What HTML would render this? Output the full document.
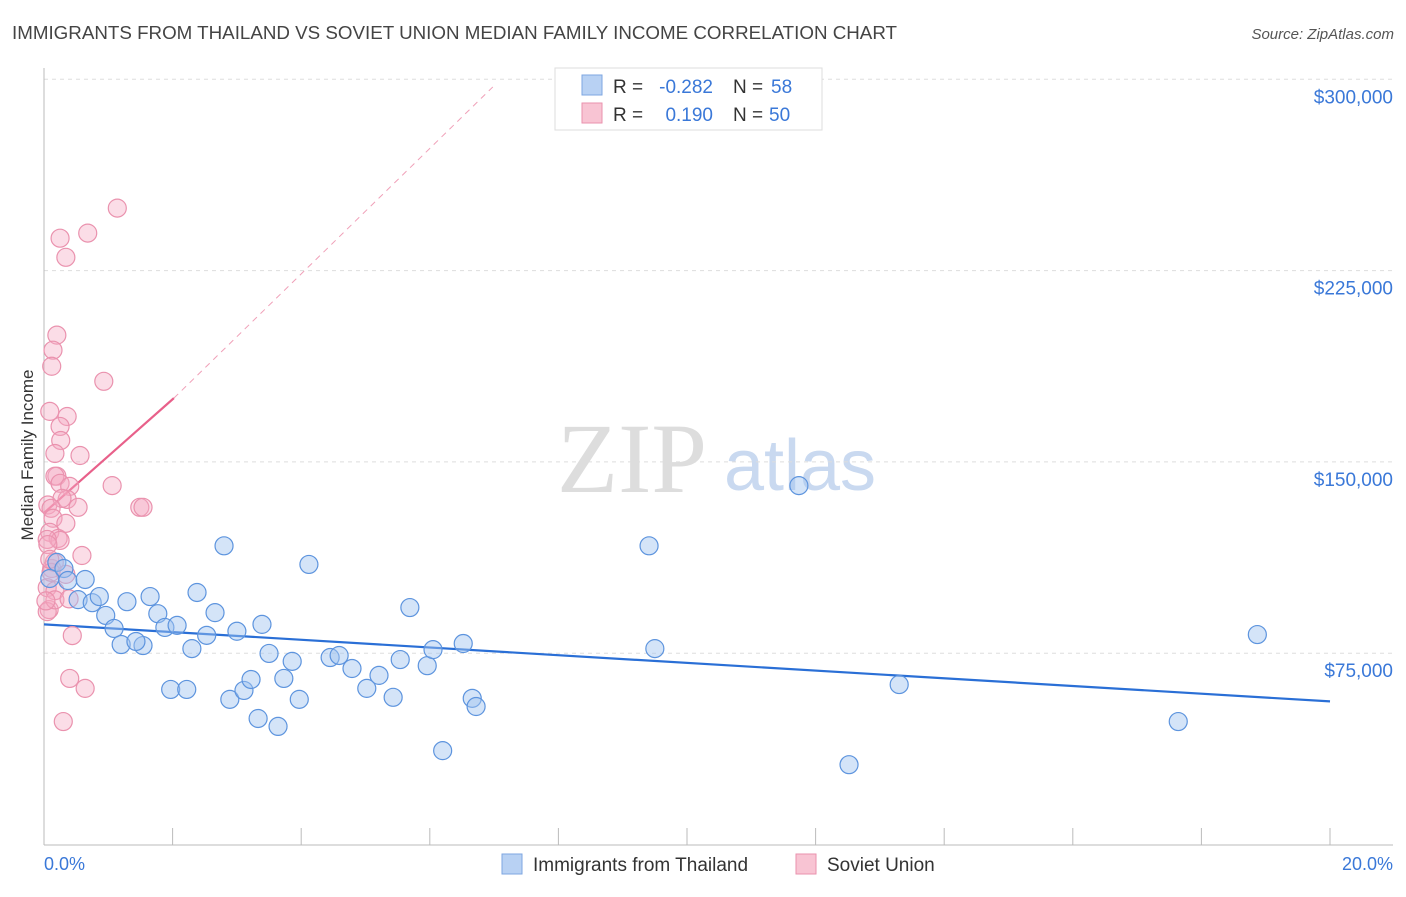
<!DOCTYPE html>
<html><head><meta charset="utf-8"><style>
body{margin:0;background:#fff;font-family:"Liberation Sans",sans-serif;}
</style></head><body>
<svg width="1406" height="892" xmlns="http://www.w3.org/2000/svg" id="svg">
<text x="12" y="39" font-size="18" fill="#444" textLength="885" lengthAdjust="spacingAndGlyphs">IMMIGRANTS FROM THAILAND VS SOVIET UNION MEDIAN FAMILY INCOME CORRELATION CHART</text>
<text x="1394" y="39" font-size="15" fill="#555" font-style="italic" text-anchor="end">Source: ZipAtlas.com</text>
<text x="632" y="492" font-size="100" fill="#ddd" font-family="Liberation Serif" text-anchor="middle">ZIP</text>
<text x="800" y="490" font-size="72" fill="#c9d9f0" text-anchor="middle">atlas</text>
<g id="grid"></g>
<line x1="44" y1="68" x2="44" y2="845" stroke="#bbb"/>
<line x1="44" y1="845" x2="1393" y2="845" stroke="#bbb"/>
<text x="33" y="455" font-size="17" fill="#333" text-anchor="middle" transform="rotate(-90 33 455)">Median Family Income</text>
<text x="44" y="870" font-size="18" fill="#3a78d8">0.0%</text>
<text x="1393" y="870" font-size="18" fill="#3a78d8" text-anchor="end">20.0%</text>
<g id="lines"></g>
<g id="points"></g>
<g>
<rect x="555" y="68" width="267" height="62" fill="#fff" stroke="#ddd"/>
<rect x="582" y="75" width="20" height="20" fill="#b8d1f3" stroke="#7ea6e0"/>
<rect x="582" y="103" width="20" height="20" fill="#f8c4d3" stroke="#ea92ae"/>
<text x="613" y="93" font-size="19" fill="#333">R =</text>
<text x="713" y="93" font-size="19" fill="#3a78d8" text-anchor="end">-0.282</text>
<text x="733" y="93" font-size="19" fill="#333">N =</text>
<text x="771" y="93" font-size="19" fill="#3a78d8">58</text>
<text x="613" y="121" font-size="19" fill="#333">R =</text>
<text x="713" y="121" font-size="19" fill="#3a78d8" text-anchor="end">0.190</text>
<text x="733" y="121" font-size="19" fill="#333">N =</text>
<text x="769" y="121" font-size="19" fill="#3a78d8">50</text>
</g>
<g>
<rect x="502" y="854" width="20" height="20" fill="#b8d1f3" stroke="#7ea6e0"/>
<text x="533" y="871" font-size="19" fill="#333">Immigrants from Thailand</text>
<rect x="796" y="854" width="20" height="20" fill="#f8c4d3" stroke="#ea92ae"/>
<text x="827" y="871" font-size="19" fill="#333">Soviet Union</text>
</g>
</svg>
<script>
const yTicks=[75000,150000,225000,300000];
const yTickLabels=["$75,000","$150,000","$225,000","$300,000"];
const thaiX=[0.2,0.09,0.31,0.37,0.64,0.53,0.75,0.86,0.96,1.09,1.2,1.29,1.54,1.43,1.65,1.77,1.88,1.97,2.07,2.22,2.3,2.38,2.53,2.66,2.8,2.89,3.0,3.11,3.22,3.33,3.39,3.5,3.64,3.73,3.86,3.97,4.12,4.45,4.59,4.79,5.02,5.21,5.43,5.54,5.69,5.96,6.05,6.2,6.52,6.66,6.72,9.41,9.5,11.74,12.52,13.3,17.64,18.87];
const thaiY=[110600,104300,108200,103500,103900,96000,94800,97200,89800,84700,78400,95200,78000,79600,97200,90500,85100,60800,85900,60800,76800,98800,82000,90900,117100,56900,83600,60400,64700,49400,86300,74900,46300,65100,71800,56900,109800,73300,74100,69000,61200,66300,57700,72500,92900,70100,76400,36800,78800,57300,54100,117100,76800,140700,31300,62700,48200,82300];
const sovX=[0.06,0.2,0.05,0.08,0.05,0.12,0.17,0.25,0.34,0.68,1.14,0.2,0.14,0.12,0.93,0.09,0.36,0.25,0.26,0.56,0.17,0.17,0.25,0.4,0.36,0.28,0.11,0.53,0.14,0.34,0.09,0.22,0.25,0.05,0.59,1.06,1.49,1.54,0.16,0.11,0.34,0.17,0.39,0.44,0.4,0.64,0.3,0.06,0.09,0.03];
const sovY=[133100,144400,100700,92100,91300,108200,99500,237700,230200,239700,249500,199700,193800,187500,181600,169800,167800,163900,158400,152500,153300,144400,141600,140400,135300,135700,131800,132200,127900,125900,122400,120000,119200,119600,113300,140700,132200,132200,110600,106700,105900,95900,96300,81900,65100,61200,48200,117600,111800,95500];
const x0=44,pxPerPct=64.3,yBase=844.5,pxPerVal=191.3/75000;
const X=p=>x0+p*pxPerPct, Y=v=>yBase-v*pxPerVal;
const NS="http://www.w3.org/2000/svg";
const grid=document.getElementById('grid'),pts=document.getElementById('points'),lines=document.getElementById('lines');
yTicks.forEach((t,i)=>{
 const l=document.createElementNS(NS,'line');
 l.setAttribute('x1',44);l.setAttribute('x2',1393);l.setAttribute('y1',Y(t));l.setAttribute('y2',Y(t));
 l.setAttribute('stroke','#ddd');l.setAttribute('stroke-dasharray','4 4');
 
 
 grid.appendChild(l);
 const tx=document.createElementNS(NS,'text');
 tx.setAttribute('x',1393);tx.setAttribute('y',Y(t)+24);tx.setAttribute('text-anchor','end');
 tx.setAttribute('font-size','19');tx.setAttribute('fill','#3a78d8');tx.textContent=yTickLabels[i];
 
 
 grid.appendChild(tx);
});
for(let i=0;i<=10;i++){
 const l=document.createElementNS(NS,'line');
 const x=X(i*2);
 l.setAttribute('x1',x);l.setAttribute('x2',x);l.setAttribute('y1',828);l.setAttribute('y2',845);l.setAttribute('stroke','#bbb');
 
 
 grid.appendChild(l);
}
function ln(a,b,c,d,col,w,dash,name){
 const l=document.createElementNS(NS,'line');
 l.setAttribute('x1',X(a));l.setAttribute('y1',Y(b));l.setAttribute('x2',X(c));l.setAttribute('y2',Y(d));
 l.setAttribute('stroke',col);l.setAttribute('stroke-width',w);if(dash)l.setAttribute('stroke-dasharray',dash);
 
 
 lines.appendChild(l);
}
function dots(xs,ys,fill,stroke,name){
 xs.forEach((x,i)=>{
  const c=document.createElementNS(NS,'circle');
  c.setAttribute('cx',X(x));c.setAttribute('cy',Y(ys[i]));c.setAttribute('r',9);
  c.setAttribute('fill',fill);c.setAttribute('stroke',stroke);c.setAttribute('stroke-width',1.2);
  
  
  pts.appendChild(c);
 });
}
dots(sovX,sovY,'rgba(246,170,195,0.4)','#ea92ae','soviet-union-point');
dots(thaiX,thaiY,'rgba(160,195,240,0.45)','#5d94de','thailand-point');
ln(2.02,175000,6.98,297000,'#f0a0b8',1,'6 5','soviet-trend-dashed');
ln(0,130000,2.02,175000,'#e8608a',2.2,null,'soviet-trend-line');
ln(0,86300,20,56100,'#2a6fd6',2.2,null,'thailand-trend-line');
</script>
</body></html>
